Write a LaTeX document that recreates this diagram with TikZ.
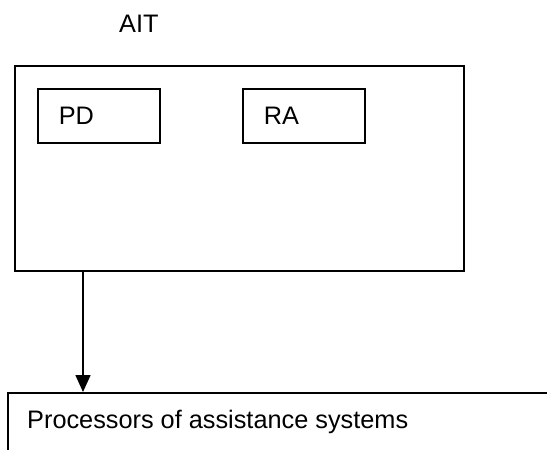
\documentclass[tikz,border=0pt]{standalone}
\usepackage{fontspec}
\setmainfont{Liberation Sans}
\usetikzlibrary{arrows.meta}
\begin{document}
\begin{tikzpicture}[x=1pt,y=-1pt,
  box/.style={draw,line width=1.6pt,anchor=north west,inner sep=0pt},
  inbox/.style={box,minimum height=54pt,text width=80pt,inner xsep=21pt,align=left},
  lbl/.style={anchor=base west,inner sep=0pt},
  arr/.style={line width=1.6pt,-{Triangle[length=17pt,width=15pt]}}]
\useasboundingbox (0,0) rectangle (547,450);
\clip (0,0) rectangle (547,450);
\fontsize{25.3}{30}\selectfont
\node[lbl] (aitlbl) at (119,32) {AIT};
\node[box,minimum width=449pt,minimum height=205pt] (ait) at (14,65) {};
\node[inbox] (pd) at (37,88) {PD};
\node[inbox] (ra) at (242,88) {RA};
\node[box,minimum width=560pt,minimum height=100pt] (proc) at (7,392) {};
\node[lbl] (proclbl) at ([xshift=20pt,yshift=-36pt]proc.north west) {Processors of assistance systems};
\draw[arr] ([xshift=69pt]ait.south west) -- ([xshift=69pt]ait.south west |- proc.north);
\end{tikzpicture}
\end{document}
